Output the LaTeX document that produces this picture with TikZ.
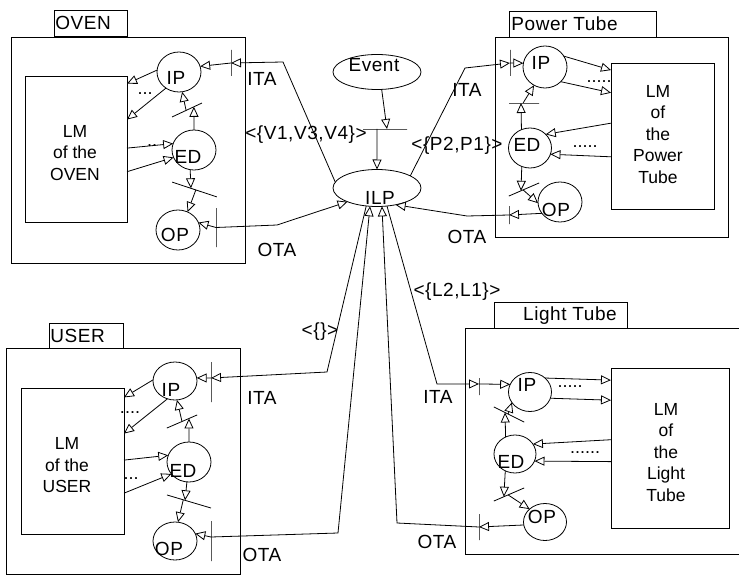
\documentclass[tikz,border=0pt]{standalone}
\usepackage{fontspec}
\setmainfont{Liberation Sans}
\newfontfamily\labfont[LetterSpace=3]{Liberation Sans}
\usetikzlibrary{shapes.geometric,arrows.meta,calc}
\begin{document}
\begin{tikzpicture}[x=1pt,y=-1pt,line width=0.8pt,
  box/.style={draw,rectangle,inner sep=0pt,outer sep=0pt,anchor=north west},
  ell/.style={draw,ellipse,inner sep=0pt,outer sep=0pt},
  tbar/.style={draw,rectangle,inner sep=0pt,outer sep=0pt,minimum height=0pt,minimum width=#1},
  txt/.style={inner sep=0pt,font={\labfont\fontsize{19pt}{22pt}\selectfont}},
  lmtxt/.style={inner sep=0pt,align=center,font={\fontsize{17.5pt}{21.5pt}\selectfont}},
  dotlbl/.style={inner sep=0pt,font={\fontsize{18pt}{20pt}\selectfont}},
  arr/.style={-{Triangle[length=10pt,width=9pt,fill=white]}}]
\useasboundingbox (0,0) rectangle (739,575);

% ---------- Event / ILP ----------
\node[ell,minimum width=88pt,minimum height=35pt] (event) at (377,72) {};
\node[txt] (eventt) at (374,65) {Event};
\node[ell,minimum width=88pt,minimum height=37pt] (ilp) at (377,188) {};
\node[txt] (ilpt) at (380,198) {ILP};
\node[tbar=44pt] (ebar) at (385,129) {};
\draw[arr] (event.-75) -- ($(ebar.west)!0.545!(ebar.east)$);
\draw[arr] ($(ebar.west)!0.32!(ebar.east)$) -- (ilp.north);

% ---------- OVEN ----------
\node[box,minimum width=73pt,minimum height=26pt] (ovenlbl) at (54,10) {};
\node[txt,anchor=west] (oventitle) at (55,23) {OVEN};
\node[box,minimum width=234pt,minimum height=226pt] (oven) at (11,37) {};
\node[box,minimum width=102pt,minimum height=146pt] (ovenlm) at (25,76) {};
\node[lmtxt] (ovenlmt) at (75,153) {LM\\of the\\OVEN};
\node[ell,minimum width=44pt,minimum height=40pt] (ovenip) at (179,72) {};
\node[txt] (ovenipt) at (176,78) {IP};
\node[ell,minimum width=44pt,minimum height=40pt] (ovened) at (194,150) {};
\node[txt] (ovenedt) at (188,157) {ED};
\node[ell,minimum width=44pt,minimum height=40pt] (ovenop) at (178,230) {};
\node[txt] (ovenopt) at (175,235) {OP};
\node[tbar=26pt,rotate=-90] (oita) at (231,63) {};
\node[tbar=39pt,rotate=-90] (oota) at (216,227.5) {};
\node[tbar=33pt,rotate=25] (oup) at (187,110) {};
\node[tbar=47pt,rotate=-18.4] (odn) at (194.5,189.5) {};
\node[dotlbl] (od1) at (145,94) {...};
\node[dotlbl] (od2) at (152,146) {..};
\draw[arr] (ilp.172) -- (283,62) -- (oita.center);
\draw[arr] (oita.center) -- (ovenip.15);
\draw[arr] (ovenip.175) -- (ovenlm.52);
\draw[arr] (ovenip.231) -- (ovenlm.30);
\draw[arr] (ovenlm.1) -- (ovened.163);
\draw[arr] (ovenlm.-24) -- (ovened.200);
\draw[arr] (ovened.north) -- ($(oup.west)!0.73!(oup.east)$);
\draw[arr] ($(oup.west)!0.47!(oup.east)$) -- (ovenip.-81);
\draw[arr] (ovened.-101) -- ($(odn.west)!0.42!(odn.east)$);
\draw[arr] ($(odn.west)!0.53!(odn.east)$) -- (ovenop.62);
\draw[arr] (oota.center) -- (ovenop.20);
\draw[arr] (oota.center) -- (277,225) -- (ilp.205);

% ---------- Power Tube ----------
\node[box,minimum width=147pt,minimum height=26pt] (powlbl) at (509,11) {};
\node[txt,anchor=west] (powtitle) at (511,24) {Power Tube};
\node[box,minimum width=233pt,minimum height=200pt] (pow) at (495,37) {};
\node[box,minimum width=103pt,minimum height=146pt] (powlm) at (611,63) {};
\node[lmtxt] (powlmt) at (658,134.5) {LM\\of\\the\\Power\\Tube};
\node[ell,minimum width=44pt,minimum height=42pt] (powip) at (545,67) {};
\node[txt] (powipt) at (541,63) {IP};
\node[ell,minimum width=43pt,minimum height=40pt] (powed) at (530,148) {};
\node[txt] (powedt) at (527,145) {ED};
\node[ell,minimum width=44pt,minimum height=40pt] (powop) at (560,202) {};
\node[txt] (powopt) at (556,210) {OP};
\node[tbar=26pt,rotate=-90] (pita) at (510,63) {};
\node[tbar=18pt,rotate=-90] (pota) at (509,215) {};
\node[tbar=30pt] (pup) at (524,103) {};
\node[tbar=33pt,rotate=23.4] (pdn) at (524,189.5) {};
\node[dotlbl] (pd1) at (599,82) {.....};
\node[dotlbl] (pd2) at (585,147) {.....};
\draw[arr] (ilp.20) -- (465,68) -- (pita.center);
\draw[arr] (pita.center) -- (powip.170);
\draw[arr] (powip.30) -- (powlm.128);
\draw[arr] (powip.-43) -- (powlm.140);
\draw[arr] (powed.115) -- ($(pup.west)!0.4!(pup.east)$);
\draw[arr] ($(pup.west)!0.47!(pup.east)$) -- (powip.-121);
\draw[arr] (powlm.166) -- (powed.41);
\draw[arr] (powlm.202) -- (powed.-17);
\draw[arr] (powed.-114) -- ($(pdn.west)!0.4!(pdn.east)$);
\draw[arr] ($(pdn.west)!0.47!(pdn.east)$) -- (powop.183);
\draw[arr] (powop.212) -- (pota.center);
\draw[arr] (pota.center) -- (467,216) -- (ilp.-42);

% ---------- USER ----------
\node[box,minimum width=74pt,minimum height=25pt] (userlbl) at (49,323) {};
\node[txt,anchor=west] (usertitle) at (50,336) {USER};
\node[box,minimum width=234pt,minimum height=226pt] (user) at (6,348) {};
\node[box,minimum width=103pt,minimum height=146pt] (userlm) at (21,388) {};
\node[lmtxt] (userlmt) at (67,465.5) {LM\\of the\\USER};
\node[ell,minimum width=44pt,minimum height=38pt] (userip) at (175,381) {};
\node[txt] (useript) at (171,390) {IP};
\node[ell,minimum width=44pt,minimum height=40pt] (usered) at (189,462) {};
\node[txt] (useredt) at (183,471) {ED};
\node[ell,minimum width=44pt,minimum height=38pt] (userop) at (175,541) {};
\node[txt] (useropt) at (169,549) {OP};
\node[tbar=40pt,rotate=-90] (uita) at (211,382) {};
\node[tbar=40pt,rotate=-90] (uota) at (211,541) {};
\node[tbar=33pt,rotate=23.4] (uup) at (182,421.5) {};
\node[tbar=46pt,rotate=-16.5] (udn) at (189,501.5) {};
\node[dotlbl] (ud1) at (130,413) {....};
\node[dotlbl] (ud2) at (131,479) {...};
\draw[arr] (ilp.-121) -- (327,372) -- ($(uita.west)!0.4!(uita.east)$);
\draw[arr] ($(uita.west)!0.4!(uita.east)$) -- (userip.8);
\draw[arr] (userip.177) -- (userlm.51);
\draw[arr] (userip.-113) -- (userlm.28);
\draw[arr] (userlm.1) -- (usered.162);
\draw[arr] (userlm.-32) -- (usered.214);
\draw[arr] (usered.north) -- ($(uup.west)!0.73!(uup.east)$);
\draw[arr] ($(uup.west)!0.5!(uup.east)$) -- (userip.-84);
\draw[arr] (usered.-96) -- ($(udn.west)!0.41!(udn.east)$);
\draw[arr] ($(udn.west)!0.37!(udn.east)$) -- (userop.81);
\draw[arr] ($(uota.west)!0.4!(uota.east)$) -- (userop.20);
\draw[arr] ($(uota.west)!0.4!(uota.east)$) -- (338,533) -- (ilp.-111);

% ---------- Light Tube ----------
\node[box,minimum width=133pt,minimum height=26pt] (ltlbl) at (494,302) {};
\node[txt] (lttitle) at (570,316) {Light Tube};
\draw (739,328) -- (465,328) -- (465,554) -- (739,554);
\node[box,minimum width=118pt,minimum height=160pt] (ltlm) at (611,368) {};
\node[lmtxt] (ltlmt) at (666,452.5) {LM\\of\\the\\Light\\Tube};
\node[ell,minimum width=43pt,minimum height=39pt] (ltip) at (530,392) {};
\node[txt] (ltipt) at (527,385) {IP};
\node[ell,minimum width=42pt,minimum height=38pt] (lted) at (515,454) {};
\node[txt] (ltedt) at (511,462) {ED};
\node[ell,minimum width=43pt,minimum height=37pt] (ltop) at (545,522) {};
\node[txt] (ltopt) at (542,517) {OP};
\node[tbar=17pt,rotate=-90] (lita) at (479,386.5) {};
\node[tbar=26pt,rotate=-90] (lota) at (479,527) {};
\node[tbar=34pt,rotate=-26.6] (lup) at (509,414.5) {};
\node[tbar=33pt,rotate=23.4] (ldn) at (509,494.5) {};
\node[dotlbl] (ld1) at (570,387) {.....};
\node[dotlbl] (ld2) at (585,453) {......};
\draw[arr] (ilp.-61) -- (437,384) -- ($(lita.west)!0.35!(lita.east)$);
\draw[arr] ($(lita.west)!0.35!(lita.east)$) -- (ltip.159);
\draw[arr] (ltip.43) -- (ltlm.131);
\draw[arr] (ltip.-17) -- (ltlm.141);
\draw[arr] (ltlm.172) -- (lted.29);
\draw[arr] (ltlm.193) -- (lted.-20);
\draw[arr] (lted.119) -- ($(lup.west)!0.37!(lup.east)$);
\draw[arr] ($(lup.west)!0.47!(lup.east)$) -- (ltip.210);
\draw[arr] (lted.-120) -- ($(ldn.west)!0.33!(ldn.east)$);
\draw[arr] ($(ldn.west)!0.47!(ldn.east)$) -- (ltop.140);
\draw[arr] (ltop.188) -- (lota.center);
\draw[arr] (lota.center) -- (397,523) -- (ilp.-75);

% ---------- connector labels ----------
\node[txt] (l1) at (262,79) {ITA};
\node[txt] (l2) at (306,135) {<\{V1,V3,V4\}>};
\node[txt] (l3) at (277,250) {OTA};
\node[txt] (l4) at (467,90) {ITA};
\node[txt] (l5) at (457,146) {<\{P2,P1\}>};
\node[txt] (l6) at (467,237) {OTA};
\node[txt] (l7) at (457,292) {<\{L2,L1\}>};
\node[txt] (l8) at (320,332) {<\{\}>};
\node[txt] (l9) at (262,398) {ITA};
\node[txt] (l10) at (262,555) {OTA};
\node[txt] (l11) at (438,397) {ITA};
\node[txt] (l12) at (437,542) {OTA};
\end{tikzpicture}
\end{document}
